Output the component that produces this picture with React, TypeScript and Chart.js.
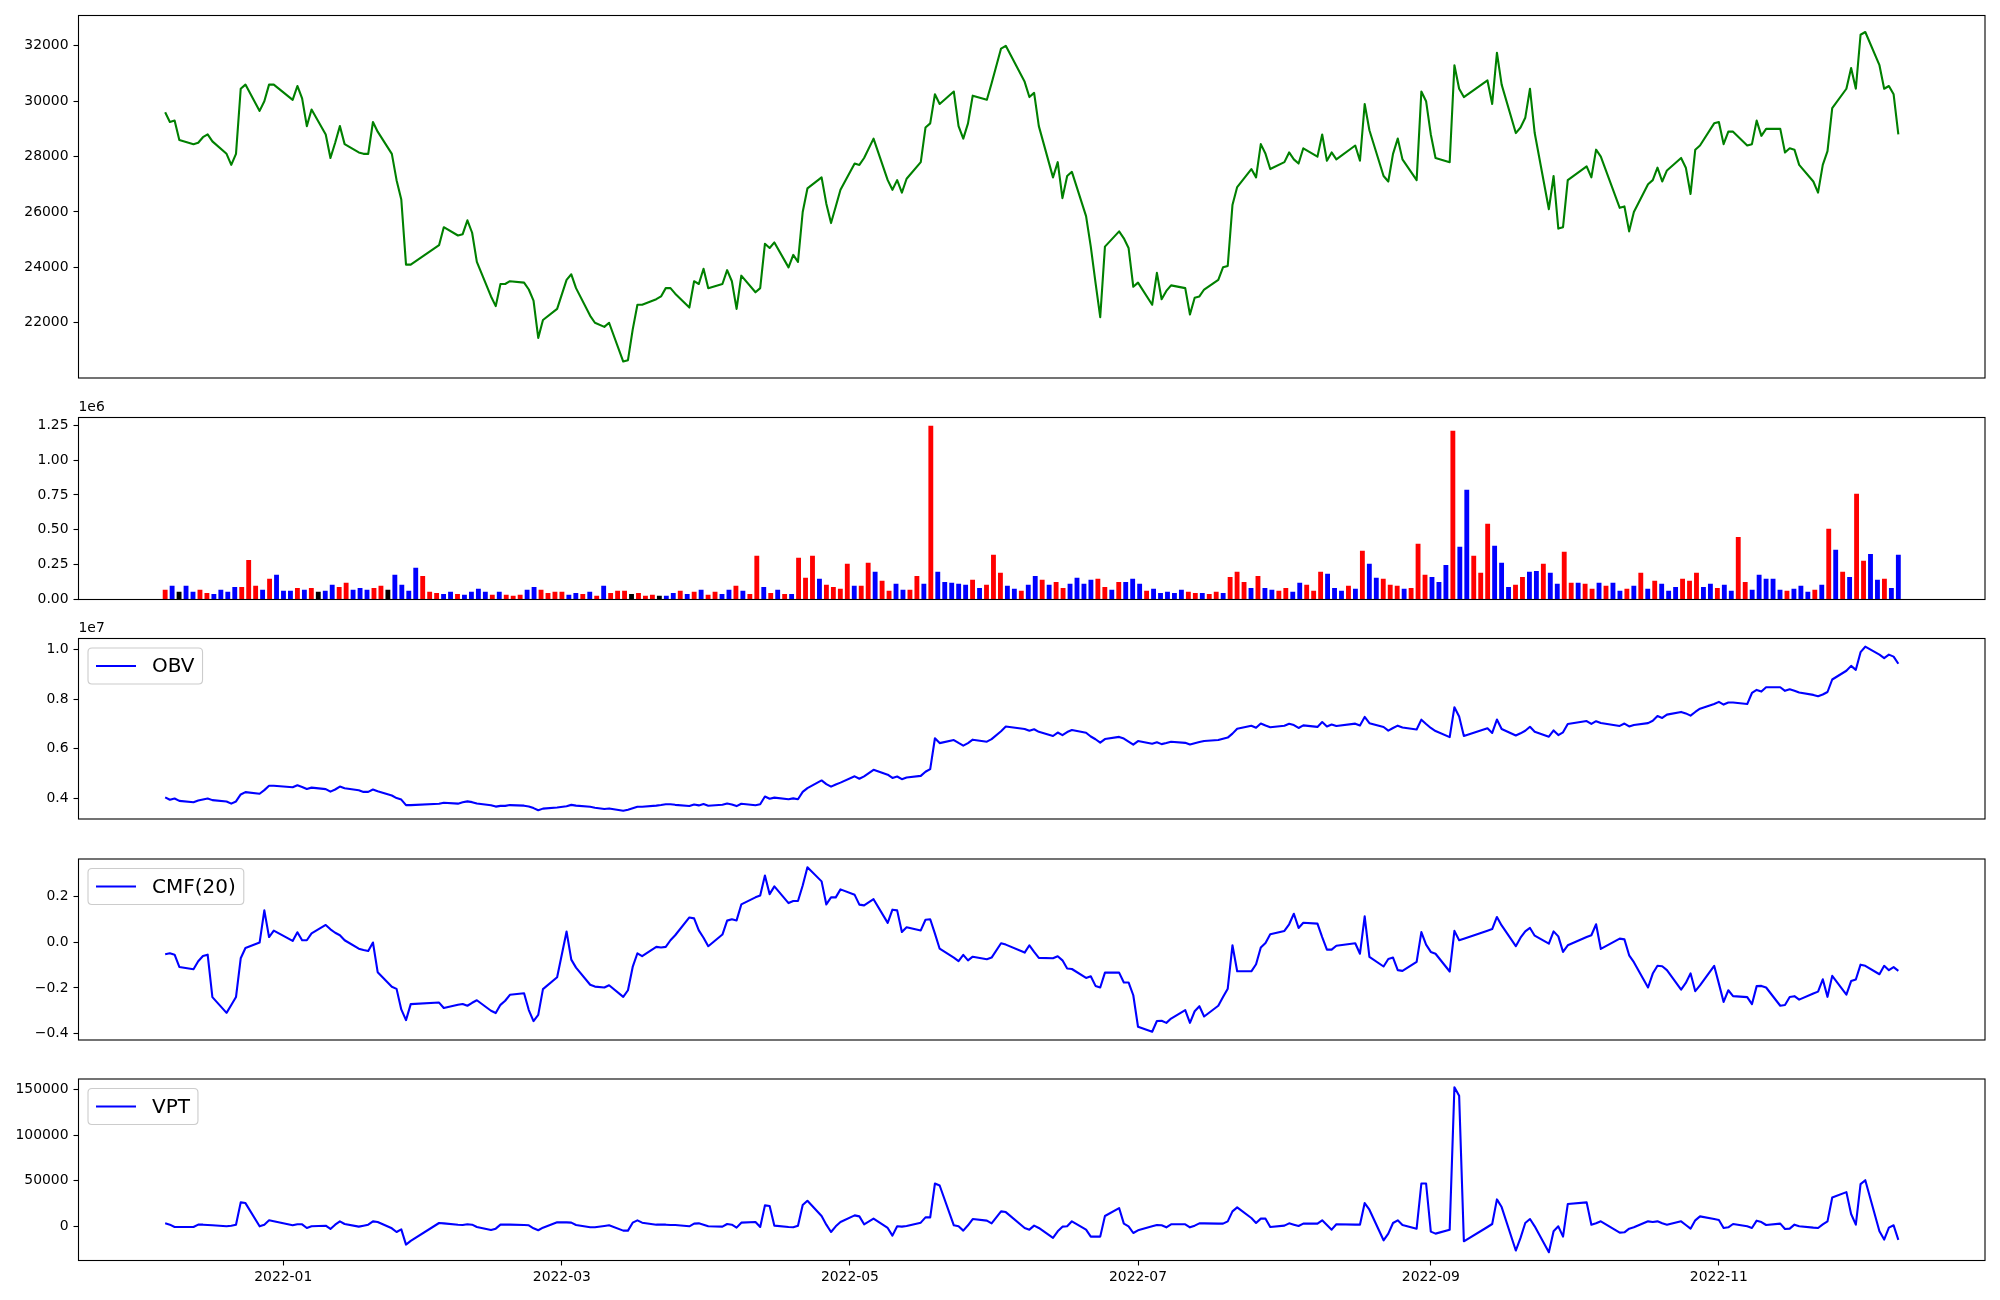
import React, { useEffect, useRef } from 'react';
import { Chart, registerables } from 'chart.js';

Chart.register(...registerables);

// ---------------- data ----------------
const firstTradingDay = '2021-12-07';
const lastTradingDay = '2022-12-09';
const marketHolidays = [
  '2021-12-31', '2022-01-31', '2022-02-01', '2022-02-02', '2022-03-01', '2022-03-09',
  '2022-05-05', '2022-06-01', '2022-06-06', '2022-08-15', '2022-09-09', '2022-09-12',
  '2022-10-03', '2022-10-10',
];
const xTickLabels = ['2022-01', '2022-03', '2022-05', '2022-07', '2022-09', '2022-11'];

const closePrice = [
  29600, 29250, 29300, 28600, 28450, 28500, 28700, 28800, 28550, 28100, 27700, 28100, 30450, 30600, 29650, 30000, 30600, 30600,
  30050, 30550, 30100, 29100, 29700, 28800, 27950, 28500, 29100, 28450, 28150, 28100, 28100, 29250, 28900, 28100, 27150, 26450, 24100, 24100,
  24800, 25450, 25150, 25200, 25700, 25250, 24200, 22950, 22600, 23400, 23400, 23500, 23450, 23200, 22800, 21450, 22100, 22500,
  23550, 23750, 23250, 22250, 22000, 21850, 22000, 20600, 20650, 21750, 22650, 22650, 22850, 22950, 23250, 23250, 23050, 22550, 23500, 23400, 23950,
  23250, 23400, 23900, 23500, 22500, 23700, 23100, 23250, 24850, 24700, 24900, 24000, 24450, 24200, 26000, 26850, 27250, 26300, 25600, 26200, 26800,
  27750, 27700, 27950, 28650, 27150, 26800, 27150, 26700, 27200, 27800, 29050, 29200, 30250, 29900, 30350, 29100, 28650, 29200, 30200, 30050, 30650,
  31900, 32000, 30700, 30150, 30300, 29100, 27250, 27800, 26500, 27300, 27450, 25850, 24750, 23450, 22200, 24750, 25300, 25050, 24700, 23300,
  23450, 22650, 23800, 22850, 23150, 23350, 23250, 22300, 22900, 22950, 23200, 23550, 24000, 24050, 26250, 26900, 27550, 27250, 28450, 28100, 27550,
  27800, 28150, 27900, 27750, 28300, 28000, 28800, 27850, 28150, 27900, 28400, 27850, 29900, 28950, 27300, 27100, 28100, 28650, 27900, 27150, 30350, 30000,
  28800, 27950, 27800, 31300, 30450, 30150, 30750, 29900, 31750, 30600, 28850, 29050, 29400, 30450, 28850, 26100, 27300, 25400, 25450, 27150,
  27650, 27250, 28250, 28000, 26150, 26200, 25300, 26000, 27000, 27150, 27600, 27100, 27500, 27950, 27600, 26650, 28250, 28400, 29200,
  29250, 28450, 28900, 28900, 28400, 28450, 29300, 28750, 29000, 29000, 28150, 28300, 28250, 27700, 27100, 26700, 27700, 28200, 29750, 30450, 31200, 30450,
  32400, 32500, 31300, 30450, 30550, 30250, 28800,
];

// traded volume, thousands of shares
const volumeThousands = [
  67, 96, 53, 96, 53, 67, 45, 38, 67, 53, 88, 88, 282, 96, 67, 146, 175, 60,
  60, 81, 67, 81, 53, 60, 103, 88, 117, 67, 81, 67, 81, 96, 67, 175, 103, 60, 225, 167,
  53, 45, 38, 53, 38, 31, 53, 74, 53, 31, 53, 31, 24, 31, 67, 88, 67, 45,
  53, 53, 31, 45, 38, 53, 24, 96, 45, 60, 60, 38, 45, 24, 31, 24, 24, 45, 60, 38, 53,
  67, 31, 53, 38, 67, 96, 60, 38, 311, 88, 45, 67, 38, 38, 297, 153, 311, 146, 103, 88, 74,
  254, 96, 96, 261, 196, 132, 60, 110, 67, 67, 167, 110, 1244, 196, 124, 117, 110, 103, 139, 81, 103,
  318, 189, 96, 74, 60, 103, 167, 139, 103, 124, 81, 110, 153, 110, 139, 146, 88, 67, 124, 124,
  146, 110, 60, 74, 45, 53, 45, 67, 53, 45, 45, 38, 53, 45, 160, 196, 124, 81, 167, 81, 67,
  60, 81, 53, 117, 103, 60, 196, 182, 81, 60, 96, 74, 347, 254, 153, 146, 103, 96, 74, 81, 397, 175,
  160, 124, 246, 1208, 376, 785, 311, 189, 541, 383, 261, 88, 103, 160, 196, 203, 254, 189, 110, 340,
  117, 117, 110, 74, 117, 96, 117, 60, 74, 96, 189, 74, 132, 110, 60, 88, 146, 132, 189,
  88, 110, 81, 103, 60, 447, 124, 67, 175, 146, 146, 67, 60, 74, 96, 53, 67, 103, 505, 354, 196, 160,
  756, 275, 325, 139, 146, 81, 318,
];
// candle direction of each day: r = up, b = down, k = unchanged
const volumeDirection =
  'rbkbbrrbbbbrrrbrbbbrbrkbbrrbbbrrkbbbbrrrbbrbbbbrbrrrbbrrrrbbrbrbrrrkrrrkbbrbrbrrbbrbrrbrbrbrrrbrrrrbrrbrrbbrrbrbbbbbrbrrrbbrbbrbrrbbbbrrbrbbbrbbbbbrrbrrbrrrbrbbrrbbrrrbbbrbrbbrrrbrrrbbbrbbrrrbbbrrbbrbbrrbrrbrbbrbrbrbbbrrrbbrbbrrbbbbbrbbbrbrbrbrrbbrbb';

// on-balance volume, thousands
const obvThousands = [
  4030, 3934, 3987, 3891, 3838, 3905, 3950, 3988, 3921, 3868, 3780, 3868, 4150, 4246, 4179, 4325, 4500, 4500,
  4440, 4521, 4454, 4373, 4426, 4366, 4263, 4351, 4468, 4401, 4320, 4253, 4253, 4349, 4282, 4107, 4004, 3944, 3719, 3719,
  3772, 3817, 3779, 3832, 3870, 3839, 3786, 3712, 3659, 3690, 3690, 3721, 3697, 3666, 3599, 3511, 3578, 3623,
  3676, 3729, 3698, 3653, 3615, 3562, 3586, 3490, 3535, 3595, 3655, 3655, 3700, 3724, 3755, 3755, 3731, 3686, 3746, 3708, 3761,
  3694, 3732, 3785, 3747, 3680, 3776, 3716, 3754, 4065, 3977, 4022, 3955, 3993, 3955, 4252, 4405, 4716, 4570, 4467, 4555, 4629,
  4883, 4787, 4883, 5144, 4948, 4816, 4876, 4766, 4833, 4900, 5067, 5177, 6421, 6225, 6349, 6232, 6122, 6225, 6364, 6283, 6386,
  6704, 6893, 6797, 6723, 6783, 6680, 6513, 6652, 6549, 6673, 6754, 6644, 6491, 6381, 6242, 6388, 6476, 6409, 6285, 6161,
  6307, 6197, 6257, 6183, 6228, 6281, 6236, 6169, 6222, 6267, 6312, 6350, 6403, 6448, 6608, 6804, 6928, 6847, 7014, 6933, 6866,
  6926, 7007, 6954, 6837, 6940, 6880, 7076, 6894, 6975, 6915, 7011, 6937, 7284, 7030, 6877, 6731, 6834, 6930, 6856, 6775, 7172, 6997,
  6837, 6713, 6467, 7675, 7299, 6514, 6825, 6636, 7177, 6794, 6533, 6621, 6724, 6884, 6688, 6485, 6739, 6550, 6660, 7000,
  7117, 7000, 7110, 7036, 6919, 7015, 6898, 6958, 7032, 7128, 7317, 7243, 7375, 7485, 7425, 7337, 7483, 7615, 7804,
  7892, 7782, 7863, 7863, 7803, 8250, 8374, 8307, 8482, 8482, 8336, 8403, 8343, 8269, 8173, 8120, 8187, 8290, 8795, 9149, 9345, 9185,
  9900, 10120, 9800, 9660, 9800, 9720, 9430,
];

const cmf20 = [
  -0.052, -0.048, -0.054, -0.108, -0.118, -0.083, -0.060, -0.054, -0.240, -0.309, -0.275, -0.240, -0.070, -0.025, -0.001, 0.140, 0.023, 0.051,
  0.006, 0.044, 0.009, 0.009, 0.039, 0.076, 0.057, 0.042, 0.031, 0.009, -0.028, -0.034, -0.038, -0.001, -0.131, -0.195, -0.204, -0.294, -0.341, -0.271,
  -0.264, -0.288, -0.274, -0.270, -0.278, -0.265, -0.254, -0.300, -0.310, -0.274, -0.256, -0.230, -0.223, -0.297, -0.345, -0.318, -0.205, -0.153,
  0.047, -0.076, -0.111, -0.186, -0.194, -0.198, -0.188, -0.239, -0.210, -0.108, -0.048, -0.061, -0.020, -0.023, -0.020, 0.009, 0.031, 0.109, 0.105, 0.052, 0.020,
  -0.017, 0.034, 0.095, 0.101, 0.096, 0.166, 0.197, 0.205, 0.293, 0.211, 0.245, 0.172, 0.181, 0.181, 0.249, 0.329, 0.267, 0.166, 0.197, 0.197, 0.232,
  0.208, 0.165, 0.162, 0.189, 0.085, 0.143, 0.140, 0.045, 0.066, 0.052, 0.099, 0.101, 0.038, -0.028, -0.067, -0.082, -0.055, -0.079, -0.063, -0.074, -0.067,
  -0.004, -0.010, -0.045, -0.013, -0.042, -0.068, -0.070, -0.061, -0.079, -0.115, -0.117, -0.156, -0.149, -0.191, -0.198, -0.133, -0.133, -0.176, -0.176, -0.232,
  -0.370, -0.392, -0.345, -0.344, -0.353, -0.334, -0.297, -0.353, -0.302, -0.280, -0.325, -0.278, -0.240, -0.203, -0.013, -0.127, -0.127, -0.096, -0.023, -0.003, 0.035,
  0.050, 0.079, 0.125, 0.063, 0.086, 0.082, 0.023, -0.032, -0.032, -0.015, -0.004, -0.050, 0.114, -0.064, -0.106, -0.073, -0.067, -0.122, -0.125, -0.086, 0.045, -0.010,
  -0.042, -0.050, -0.128, 0.050, 0.009, 0.016, 0.051, 0.058, 0.111, 0.074, -0.017, 0.020, 0.048, 0.063, 0.029, -0.006, 0.048, 0.026, -0.042, -0.013,
  0.023, 0.031, 0.079, -0.029, 0.016, 0.013, -0.057, -0.087, -0.198, -0.137, -0.103, -0.105, -0.122, -0.207, -0.178, -0.136, -0.214, -0.189, -0.103,
  -0.181, -0.261, -0.210, -0.236, -0.240, -0.271, -0.192, -0.191, -0.198, -0.278, -0.275, -0.240, -0.236, -0.251, -0.224, -0.216, -0.162, -0.239, -0.147, -0.229, -0.170, -0.163,
  -0.098, -0.103, -0.140, -0.103, -0.122, -0.109, -0.125,
];

const vpt = [
  3270, 1800, -700, -730, -730, 1800, 1800, 1450, 1100, 0, 700, 1800, 26200, 25450, 0, 1800, 6550, 5450,
  1100, 2200, 2200, -1800, 0, 700, -2900, 1800, 5450, 2550, -360, 700, 1800, 5450, 4700, -2200, -6200, -3300, -20000, -16000,
  3640, 3270, 1800, 1450, 2200, 1800, -730, -4000, -2550, 1800, 1800, 1800, 1450, 1100, -2200, -4350, -1450, 4350,
  4350, 4000, 1450, -1100, -1100, 360, 1100, -4700, -4700, 4000, 6550, 4000, 1800, 1800, 1800, 1450, 1450, 0, 2900, 3270, 1800,
  0, -360, 2550, 1800, -1450, 4000, 4700, -730, 22900, 22200, 730, -730, -1100, 730, 23300, 28000, 11300, 1800, -6200, 0, 4700,
  12000, 10900, 2200, 8400, -1800, -10200, 0, -360, 360, 4000, 9800, 9800, 46900, 44700, 1100, 0, -4700, 1100, 8000, 6200, 3270,
  16400, 15600, -1800, -3640, 730, -1800, -12700, -5450, -360, 0, 5450, -3640, -11300, -11300, -11300, 11300, 20000, 2900, 0, -7300,
  -4350, 0, 1450, 1100, -1100, 2200, 2200, -1100, 730, 3270, 3270, 2900, 2900, 5450, 16400, 20700, 9100, 3640, 8400, 8400, -730,
  730, 3270, 1800, 360, 2900, 2900, 6550, 1450, -3640, 2200, 1800, 1800, 25450, 18200, -15300, -8000, 3640, 6550, 1450, -2550, 46900, 46900,
  -5800, -8000, -3640, 152300, 142900, -16400, -730, 2550, 29450, 21100, -26500, -12700, 3640, 8000, 0, -28400, -5450, 0, -11300, 24400,
  26200, 1800, 3270, 5450, -6900, -6550, -2550, -1100, 5450, 4700, 5450, 3270, 1800, 5450, 1450, -2550, 6550, 10900, 8000,
  6900, -1800, -1100, 2550, 0, -1800, 6200, 4700, 1450, 2900, -2900, -2550, 1800, 0, -1450, -1800, 2200, 5450, 31600, 37450, 13450, 1800,
  46200, 50500, -5450, -14500, -1450, 1100, -14900,
];

const priceTicks = [22000, 24000, 26000, 28000, 30000, 32000];
const volumeTicks = [0, 250000, 500000, 750000, 1000000, 1250000];
const obvTicks = [4000000, 6000000, 8000000, 10000000];
const cmfTicks = [-0.4, -0.2, 0, 0.2];
const vptTicks = [0, 50000, 100000, 150000];

// ---------------- layout / style ----------------
const W = 2000;
const H = 1300;
const AX_LEFT = 78.5;
const AX_RIGHT = 1985;
const X_AXIS_H = 30;
const PANELS = [
  { top: 15.5, bottom: 378 },
  { top: 417.5, bottom: 599.5 },
  { top: 638.5, bottom: 819 },
  { top: 859, bottom: 1040 },
  { top: 1079, bottom: 1260.5 },
];
const FONT = "'DejaVu Sans', sans-serif";
const TICK_FONT = { family: FONT, size: 13.9 };
const DIR_COLORS: Record<string, string> = { r: '#ff0000', b: '#0000ff', k: '#000000' };

function dayNum(s: string): number {
  const [y, m, d] = s.split('-').map(Number);
  return Date.UTC(y, m - 1, d) / 86400000;
}

function buildTradingDays(): number[] {
  const hol = new Set(marketHolidays.map(dayNum));
  const out: number[] = [];
  for (let d = dayNum(firstTradingDay); d <= dayNum(lastTradingDay); d++) {
    const wd = new Date(d * 86400000).getUTCDay();
    if (wd === 0 || wd === 6 || hol.has(d)) continue;
    out.push(d);
  }
  return out;
}

function paddedRange(vals: number[]): [number, number] {
  const lo = Math.min(...vals);
  const hi = Math.max(...vals);
  const r = hi - lo;
  return [lo - 0.05 * r, hi + 0.05 * r];
}

const minus = (s: string) => s.replace('-', '\u2212');

const framePlugin = {
  id: 'frame',
  afterDatasetsDraw(chart: any) {
    const { ctx, chartArea: a } = chart;
    ctx.save();
    ctx.strokeStyle = '#000';
    ctx.lineWidth = 1.1;
    ctx.strokeRect(a.left, a.top, a.right - a.left, a.bottom - a.top);
    ctx.restore();
  },
};

function legendPlugin(label: string, color: string) {
  return {
    id: 'boxLegend',
    afterDraw(chart: any) {
      const { ctx, chartArea: a } = chart;
      ctx.save();
      ctx.font = `20px ${FONT}`;
      const tw = ctx.measureText(label).width;
      const x = a.left + 9.5;
      const y = a.top + 9.5;
      const w = 8 + 40 + 16 + tw + 8;
      const h = 36;
      const r = 4;
      ctx.beginPath();
      ctx.moveTo(x + r, y);
      ctx.lineTo(x + w - r, y);
      ctx.quadraticCurveTo(x + w, y, x + w, y + r);
      ctx.lineTo(x + w, y + h - r);
      ctx.quadraticCurveTo(x + w, y + h, x + w - r, y + h);
      ctx.lineTo(x + r, y + h);
      ctx.quadraticCurveTo(x, y + h, x, y + h - r);
      ctx.lineTo(x, y + r);
      ctx.quadraticCurveTo(x, y, x + r, y);
      ctx.closePath();
      ctx.fillStyle = 'rgba(255,255,255,0.8)';
      ctx.fill();
      ctx.strokeStyle = '#cccccc';
      ctx.lineWidth = 1.1;
      ctx.stroke();
      const cy = y + h / 2;
      ctx.strokeStyle = color;
      ctx.lineWidth = 2.1;
      ctx.beginPath();
      ctx.moveTo(x + 8, cy);
      ctx.lineTo(x + 48, cy);
      ctx.stroke();
      ctx.fillStyle = '#000';
      ctx.textBaseline = 'middle';
      ctx.textAlign = 'left';
      ctx.fillText(label, x + 64, cy + 1);
      ctx.restore();
    },
  };
}

function offsetTextPlugin(text: string) {
  return {
    id: 'offsetText',
    afterDraw(chart: any) {
      const { ctx, chartArea: a } = chart;
      ctx.save();
      ctx.font = `13.9px ${FONT}`;
      ctx.fillStyle = '#000';
      ctx.textBaseline = 'bottom';
      ctx.textAlign = 'left';
      ctx.fillText(text, a.left, a.top - 3);
      ctx.restore();
    },
  };
}

function axisStyle() {
  return {
    grid: {
      display: true,
      drawOnChartArea: false,
      drawTicks: true,
      tickLength: 5,
      tickWidth: 1.1,
      tickColor: '#000',
    },
    border: { display: false },
  };
}

function makeChart(
  canvas: HTMLCanvasElement,
  p: { top: number; bottom: number },
  cfg: {
    type: 'line' | 'bar';
    datasets: any[];
    xMin: number;
    xMax: number;
    showX: boolean;
    xTicks?: number[];
    xFmt?: (v: number) => string;
    yRange: [number, number];
    yTicks: number[];
    yFmt: (v: number) => string;
    plugins: any[];
  }
) {
  return new Chart(canvas, {
    type: cfg.type,
    data: { datasets: cfg.datasets },
    options: {
      animation: false,
      responsive: false,
      devicePixelRatio: 1,
      events: [],
      layout: {
        autoPadding: false,
        padding: {
          left: 0,
          right: W - AX_RIGHT,
          top: p.top,
          bottom: cfg.showX ? H - p.bottom - X_AXIS_H : H - p.bottom,
        },
      },
      plugins: { legend: { display: false }, tooltip: { enabled: false } },
      scales: {
        x: {
          type: 'linear',
          display: cfg.showX,
          min: cfg.xMin,
          max: cfg.xMax,
          offset: false,
          ...axisStyle(),
          ticks: {
            font: TICK_FONT,
            color: '#000',
            padding: 4,
            maxRotation: 0,
            autoSkip: false,
            callback: (v: any) => (cfg.xFmt ? cfg.xFmt(Number(v)) : ''),
          },
          afterBuildTicks: (s: any) => {
            s.ticks = (cfg.xTicks || []).map((v) => ({ value: v }));
          },
          afterFit: (s: any) => {
            s.height = cfg.showX ? X_AXIS_H : 0;
          },
        },
        y: {
          type: 'linear',
          min: cfg.yRange[0],
          max: cfg.yRange[1],
          ...axisStyle(),
          ticks: {
            font: TICK_FONT,
            color: '#000',
            padding: 5,
            autoSkip: false,
            callback: (v: any) => cfg.yFmt(Number(v)),
          },
          afterBuildTicks: (s: any) => {
            s.ticks = cfg.yTicks.map((v) => ({ value: v }));
          },
          afterFit: (s: any) => {
            s.width = AX_LEFT;
          },
        },
      },
    } as any,
    plugins: [framePlugin, ...cfg.plugins],
  } as any);
}

export default function App() {
  const refs = [
    useRef<HTMLCanvasElement>(null),
    useRef<HTMLCanvasElement>(null),
    useRef<HTMLCanvasElement>(null),
    useRef<HTMLCanvasElement>(null),
    useRef<HTMLCanvasElement>(null),
  ];

  useEffect(() => {
    const days = buildTradingDays();
    const n = Math.min(days.length, closePrice.length);
    const d0 = days[0];
    const d1 = days[n - 1];
    const span = d1 - d0;
    const xMin = d0 - 0.05 * span;
    const xMax = d1 + 0.05 * span;
    const xTickValues = xTickLabels.map((s) => dayNum(s + '-01'));
    const xFmt = (v: number) => {
      const i = xTickValues.findIndex((t) => Math.abs(t - v) < 0.01);
      return i >= 0 ? xTickLabels[i] : '';
    };

    const lineSet = (vals: number[], color: string) => ({
      data: days.slice(0, n).map((d, i) => ({ x: d, y: vals[i] })),
      borderColor: color,
      borderWidth: 2.1,
      pointRadius: 0,
      tension: 0,
      fill: false,
      borderJoinStyle: 'round',
    });

    const vols = volumeThousands.map((v) => v * 1000);
    const obv = obvThousands.map((v) => v * 1000);
    const dirs = volumeDirection.split('');
    const nb = vols.length;

    const charts: Chart[] = [];
    const common = { xMin, xMax, showX: false, plugins: [] as any[] };

    charts.push(
      makeChart(refs[0].current!, PANELS[0], {
        ...common,
        type: 'line',
        datasets: [lineSet(closePrice, '#008000')],
        yRange: paddedRange(closePrice),
        yTicks: priceTicks,
        yFmt: (v) => String(v),
      })
    );

    charts.push(
      makeChart(refs[1].current!, PANELS[1], {
        type: 'bar',
        showX: false,
        xMin: -0.05 * (nb - 1),
        xMax: 1.05 * (nb - 1),
        datasets: [
          {
            data: vols.map((v, i) => ({ x: i, y: v })),
            backgroundColor: dirs.map((c) => DIR_COLORS[c] || '#000'),
            barThickness: 4.2,
            borderWidth: 0,
          },
        ],
        yRange: [0, 1.05 * Math.max(...vols)],
        yTicks: volumeTicks,
        yFmt: (v) => (v / 1e6).toFixed(2),
        plugins: [offsetTextPlugin('1e6')],
      })
    );

    charts.push(
      makeChart(refs[2].current!, PANELS[2], {
        ...common,
        type: 'line',
        datasets: [lineSet(obv, '#0000ff')],
        yRange: paddedRange(obv),
        yTicks: obvTicks,
        yFmt: (v) => (v / 1e7).toFixed(1),
        plugins: [offsetTextPlugin('1e7'), legendPlugin('OBV', '#0000ff')],
      })
    );

    charts.push(
      makeChart(refs[3].current!, PANELS[3], {
        ...common,
        type: 'line',
        datasets: [lineSet(cmf20, '#0000ff')],
        yRange: paddedRange(cmf20),
        yTicks: cmfTicks,
        yFmt: (v) => minus(v.toFixed(1)),
        plugins: [legendPlugin('CMF(20)', '#0000ff')],
      })
    );

    charts.push(
      makeChart(refs[4].current!, PANELS[4], {
        ...common,
        showX: true,
        xTicks: xTickValues,
        xFmt,
        type: 'line',
        datasets: [lineSet(vpt, '#0000ff')],
        yRange: paddedRange(vpt),
        yTicks: vptTicks,
        yFmt: (v) => minus(String(v)),
        plugins: [legendPlugin('VPT', '#0000ff')],
      })
    );

    return () => charts.forEach((c) => c.destroy());
  }, []);

  return (
    <div
      style={{
        position: 'fixed',
        left: 0,
        top: 0,
        width: W,
        height: H,
        background: '#ffffff',
        overflow: 'hidden',
      }}
    >
      {refs.map((r, i) => (
        <canvas
          key={i}
          ref={r}
          width={W}
          height={H}
          style={{ position: 'absolute', left: 0, top: 0, width: W, height: H }}
        />
      ))}
    </div>
  );
}
